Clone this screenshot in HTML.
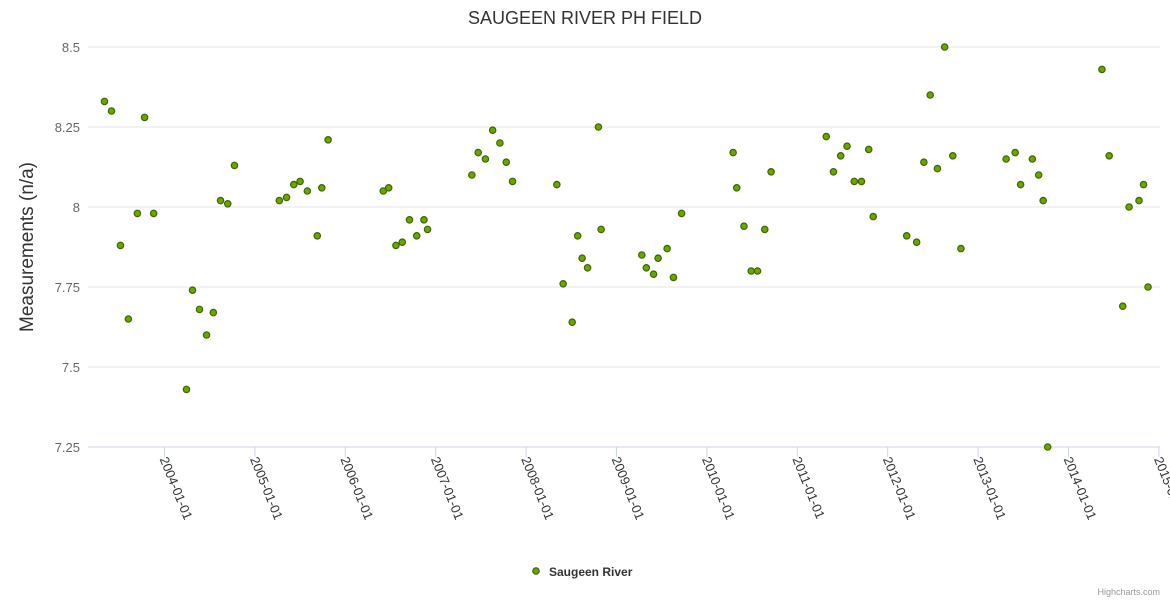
<!DOCTYPE html>
<html><head><meta charset="utf-8"><style>
body{margin:0;background:#fff;}
svg{display:block;font-family:"Liberation Sans","DejaVu Sans",sans-serif;}
</style></head><body>
<svg id="chart" width="1170" height="600">
<text x="585" y="24" text-anchor="middle" font-size="18" fill="#333">SAUGEEN RIVER PH FIELD</text>
<text transform="translate(33,247) rotate(-90)" text-anchor="middle" font-size="19" fill="#333">Measurements (n/a)</text>
<g id="grid"></g><g id="xaxis"></g><g id="points"></g>
<g>
<circle cx="536" cy="571" r="3.2" fill="#6aa500" stroke="#3f6600" stroke-width="1.2"/>
<text x="549" y="576" font-size="12" font-weight="bold" fill="#333">Saugeen River</text>
</g>
<text x="1160" y="595" text-anchor="end" font-size="9" fill="#999">Highcharts.com</text>
</svg>
<script>
const yTicks=[7.25,7.5,7.75,8,8.25,8.5];
const yTickLabels=["7.25","7.5","7.75","8","8.25","8.5"];
const xTicks=[2004,2005,2006,2007,2008,2009,2010,2011,2012,2013,2014,2015];
const xTickLabels=["2004-01-01","2005-01-01","2006-01-01","2007-01-01","2008-01-01","2009-01-01","2010-01-01","2011-01-01","2012-01-01","2013-01-01","2014-01-01","2015-01-01"];
const dates=[2003.336,2003.414,2003.513,2003.60,2003.70,2003.78,2003.88,2004.243,2004.31,2004.387,2004.465,2004.54,2004.62,2004.70,2004.774,2005.27,2005.35,2005.43,2005.50,2005.58,2005.69,2005.74,2005.81,2006.42,2006.48,2006.56,2006.63,2006.71,2006.79,2006.87,2006.91,2007.40,2007.47,2007.55,2007.63,2007.71,2007.78,2007.85,2008.34,2008.41,2008.51,2008.57,2008.62,2008.68,2008.80,2008.83,2009.28,2009.33,2009.41,2009.46,2009.56,2009.63,2009.72,2010.29,2010.33,2010.41,2010.49,2010.56,2010.64,2010.71,2011.32,2011.40,2011.48,2011.55,2011.63,2011.71,2011.79,2011.84,2012.21,2012.32,2012.40,2012.47,2012.55,2012.63,2012.72,2012.81,2013.31,2013.41,2013.47,2013.60,2013.67,2013.72,2013.77,2014.37,2014.45,2014.60,2014.67,2014.78,2014.83,2014.88];
const values=[8.33,8.30,7.88,7.65,7.98,8.28,7.98,7.43,7.74,7.68,7.60,7.67,8.02,8.01,8.13,8.02,8.03,8.07,8.08,8.05,7.91,8.06,8.21,8.05,8.06,7.88,7.89,7.96,7.91,7.96,7.93,8.10,8.17,8.15,8.24,8.20,8.14,8.08,8.07,7.76,7.64,7.91,7.84,7.81,8.25,7.93,7.85,7.81,7.79,7.84,7.87,7.78,7.98,8.17,8.06,7.94,7.80,7.80,7.93,8.11,8.22,8.11,8.16,8.19,8.08,8.08,8.18,7.97,7.91,7.89,8.14,8.35,8.12,8.50,8.16,7.87,8.15,8.17,8.07,8.15,8.10,8.02,7.25,8.43,8.16,7.69,8.00,8.02,8.07,7.75];
const NS="http://www.w3.org/2000/svg";
const X0=88,X1=1160;
function xs(t){return 164.5+(t-2004)*90.4;}
function ys(v){return 47+(8.5-v)*320;}
function mk(tag,attrs,parent){const e=document.createElementNS(NS,tag);for(const k in attrs)e.setAttribute(k,attrs[k]);parent.appendChild(e);return e;}
const grid=document.getElementById('grid');
yTicks.forEach((v,i)=>{
  const l=mk('line',{x1:X0,x2:X1,y1:ys(v),y2:ys(v),stroke:i===0?'#ccd6eb':'#e6e6e6','stroke-width':1},grid);
  
  
  const t=mk('text',{x:80,y:ys(v)+5,'text-anchor':'end','font-size':13,fill:'#666'},grid);
  t.textContent=yTickLabels[i];
  
  
});
const xa=document.getElementById('xaxis');
xTicks.forEach((v,i)=>{
  const x=xs(v);
  const l=mk('line',{x1:x,x2:x,y1:447,y2:457,stroke:'#ccd6eb'},xa);
  
  
  const t=mk('text',{transform:`translate(${x-5},${459}) rotate(68)`,'font-size':13,fill:'#333'},xa);
  t.textContent=xTickLabels[i];
  
  
});
const pts=document.getElementById('points');
dates.forEach((d,i)=>{
  const c=mk('circle',{cx:xs(d),cy:ys(values[i]),r:3.2,fill:'#6aa500',stroke:'#3f6600','stroke-width':1.2},pts);
  
  
});
</script>
</body></html>
